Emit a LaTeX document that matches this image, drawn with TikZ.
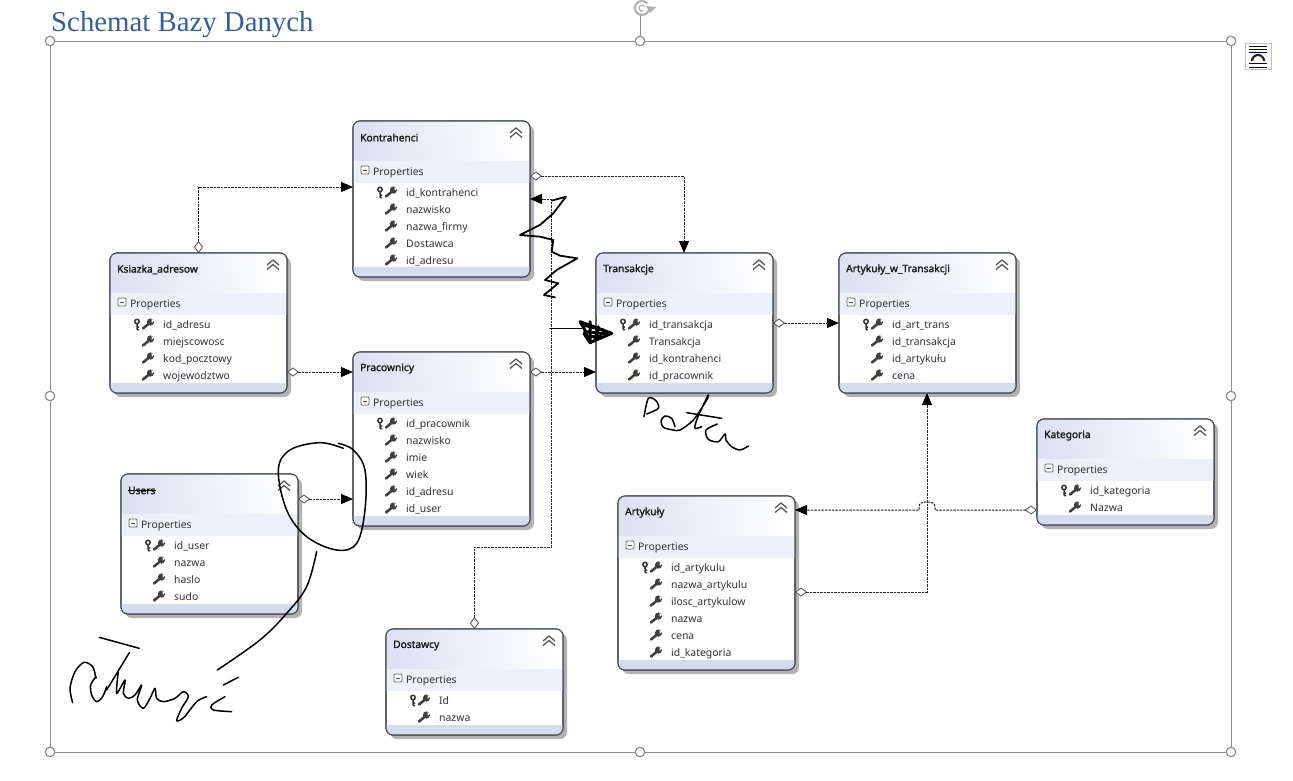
\documentclass[tikz,border=0pt]{standalone}
\usepackage{fontspec}
\setmainfont{Liberation Serif}
\newfontfamily\uifont{Noto Sans}
\newfontfamily\uibold[FakeBold=1.6]{Noto Sans}
\usetikzlibrary{arrows.meta,calc}
\definecolor{headblue}{HTML}{DCE2F1}
\definecolor{bandblue}{HTML}{EDF0F8}
\definecolor{footblue}{HTML}{D5DCEE}
\definecolor{boxline}{HTML}{484E58}
\definecolor{framegray}{HTML}{8E8E8E}
\definecolor{titleblue}{HTML}{365F91}
\tikzstyle{entity} = [draw=boxline, fill=white, line width=1.1pt, rounded corners=7pt, minimum width=177pt, inner sep=0pt, outer sep=0pt, anchor=north west]
\tikzstyle{entitytitle} = [font=\fontsize{10.2}{12}\uibold, text=black!90, inner sep=0pt, anchor=west]
\tikzstyle{rowtext} = [font=\fontsize{10.4}{13}\uifont, text=black!80, inner sep=0pt, anchor=west, text height=8pt, text depth=3pt]
\tikzstyle{relation} = [draw=black!85, line width=1pt, dash pattern=on 2.5pt off 1pt, {Diamond[open,fill=white,length=12pt,width=9pt,line width=0.8pt,black!70]}-{Triangle[length=12pt,width=10pt,black]}]
\tikzstyle{handle} = [circle, draw=framegray, fill=white, line width=1.2pt, minimum size=9.5pt, inner sep=0pt]
\tikzstyle{ink} = [draw=black, line width=1.5pt, line join=round, line cap=round]
\tikzset{
  wrench/.pic={
    \draw[black!75, line width=2.6pt, line cap=round] (-5,4) -- (1,-1);
    \fill[black!75] (2.5,-2.5) circle (3.6);
    \fill[white] (3.5,-5.4) -- (7,-4.4) -- (3.8,-1.8) -- cycle;
  },
  keyicon/.pic={
    \draw[black!80, line width=1.5pt] (0,-3) circle (2.2) (0,-0.8) -- (0,5) (0,2.5) -- (2,2.5) (0,5) -- (2,5);
  },
  chevrons/.pic={
    \draw[black!65, line width=1.3pt] (-6,1) -- (0,-4) -- (6,1) (-6,5.5) -- (0,0.5) -- (6,5.5);
  },
  minusbox/.pic={
    \draw[black!60, fill=white, rounded corners=1pt, line width=0.8pt] (-4,-4) rectangle (4,4);
    \draw[black!70, line width=0.9pt] (-2,0) -- (2,0);
  }
}
% name, left, top, height, title, rows (the first one is the key)
\newcommand{\entity}[6]{
  \fill[black!30, rounded corners=7pt] (#2+4,#3+4) rectangle (#2+181,#3+#4+4);
  \node[entity, minimum height=#4pt] (#1) at (#2,#3) {};
  \begin{scope}
    \clip[rounded corners=7pt] (#1.north west) rectangle (#1.south east);
    \shade[left color=headblue, right color=white, shading angle=100] (#1.north west) rectangle ($(#1.north east)+(0,40)$);
    \fill[bandblue] ($(#1.north west)+(0,40)$) rectangle ($(#1.north east)+(0,62)$);
    \fill[footblue] ($(#1.south west)+(0,-10)$) rectangle (#1.south east);
  \end{scope}
  \draw[draw=boxline, line width=1.1pt, rounded corners=7pt] (#1.north west) rectangle (#1.south east);
  \node[entitytitle] (#1-title) at (#2+7,#3+16.5) {#5};
  \pic at (#2+163,#3+11) {chevrons};
  \pic at (#2+12,#3+49) {minusbox};
  \node[rowtext] (#1-props) at (#2+20,#3+52) {Properties};
  \foreach \row [count=\i from 0] in {#6} {
    \node[rowtext] (#1-row\i) at (#2+53,#3+72.5+17*\i) {\row};
    \pic at ($(#1-row\i.west)+(-15,-1)$) {wrench};
    \ifnum\i=0 \pic at ($(#1-row\i.west)+(-26,-1)$) {keyicon}; \fi
  }
}
\begin{document}
\begin{tikzpicture}[x=1pt, y=-1pt]
  \useasboundingbox (0,0) rectangle (1293,780);
  \node[font=\fontsize{28.8}{32}\selectfont, text=titleblue, inner sep=0pt, anchor=base west] (pagetitle) at (51,31) {Schemat Bazy Danych};
  % selection frame
  \foreach \n/\px/\py in {nw/50/41, n/640/41, ne/1231/41, e/1231/396, se/1231/752, s/640/752, sw/50/752, w/50/396}
    \node[handle] (h\n) at (\px,\py) {};
  \draw[framegray, line width=0.9pt] (hnw) -- (hn) -- (hne) -- (he) -- (hse) -- (hs) -- (hsw) -- (hw) -- (hnw);
  \coordinate (rotbase) at (640,15);
  \draw[framegray, line width=0.9pt] (hn) -- (rotbase);
  \draw[framegray!70, line width=2pt] (642,8) ++(20:7) arc[start angle=20, end angle=320, radius=7];
  \draw[framegray!70, line width=1.2pt] (642,8) ++(60:3) arc[start angle=60, end angle=330, radius=3];
  \fill[framegray!70] (646,6) -- (656,7) -- (650,13) -- cycle;
  \node[draw=black!25, fill=white, minimum size=26pt, inner sep=0pt] (layouticon) at (1258,56) {};
  \foreach \ly in {46,49,52,63,67} \draw[black!75!blue, line width=0.8pt] (1249,\ly) -- (1267,\ly);
  \draw[black!85, line width=2.2pt] (1252,61) arc[start angle=180, end angle=360, radius=6];
  % tables
  \entity{kontrahenci}{353}{121}{156}{Kontrahenci}{id\_kontrahenci,nazwisko,nazwa\_firmy,Dostawca,id\_adresu}
  \entity{ksiazka}{110}{253}{140}{Ksiazka\_adresow}{id\_adresu,miejscowosc,kod\_pocztowy,wojewodztwo}
  \entity{pracownicy}{353}{352}{174}{Pracownicy}{id\_pracownik,nazwisko,imie,wiek,id\_adresu,id\_user}
  \entity{users}{121}{474}{140}{Users}{id\_user,nazwa,haslo,sudo}
  \entity{transakcje}{596}{253}{140}{Transakcje}{id\_transakcja,Transakcja,id\_kontrahenci,id\_pracownik}
  \entity{artwtrans}{839}{253}{140}{Artykuły\_w\_Transakcji}{id\_art\_trans,id\_transakcja,id\_artykułu,cena}
  \entity{kategoria}{1037}{419}{106}{Kategoria}{id\_kategoria,Nazwa}
  \entity{artykuly}{618}{496}{174}{Artykuły}{id\_artykulu,nazwa\_artykulu,ilosc\_artykulow,nazwa,cena,id\_kategoria}
  \entity{dostawcy}{386}{629}{106}{Dostawcy}{Id,nazwa}
  \draw[black, line width=0.9pt] (users-title.west) -- (users-title.east);
  % relations
  \draw[relation] (ksiazka.north) |- (kontrahenci.west |- 0,187);
  \draw[relation] (kontrahenci.east |- 0,176) -| (transakcje.north -| 684,0);
  \draw[relation] (ksiazka.east |- 0,372) -- (pracownicy.west |- 0,372);
  \draw[relation] (pracownicy.east |- 0,372) -- (transakcje.west |- 0,372);
  \draw[relation] (users.east |- 0,499) -- (pracownicy.west |- 0,499);
  \draw[relation] (dostawcy.north) |- (551,547) |- (kontrahenci.east |- 0,199);
  \draw[relation] (transakcje.east |- 0,323) -- (artwtrans.west |- 0,323);
  \draw[relation] (artykuly.east |- 0,592) -| (artwtrans.south -| 927,0);
  \draw[relation] (kategoria.west |- 0,510) -- (935,510) -- (935,507) .. controls (935,503) and (932,502) .. (927,502) .. controls (922,502) and (919,503) .. (919,507) -- (919,510) -- (artykuly.east |- 0,510);
  % handwriting
  \begin{scope}[shift={(340,110)}, x=0.3333pt, y=-0.3333pt]
    \draw[ink, line width=1.8pt] (635,272) -- (678,260) -- (640,310) -- (600,345) -- (540,375) -- (600,380) -- (640,390) -- (635,425) -- (660,437) -- (712,445) -- (650,480) -- (615,510) -- (655,520) -- (612,555) -- (645,562);
  \end{scope}
  \begin{scope}[shift={(570,310)}, x=0.3333pt, y=-0.3333pt]
    \draw[ink, line width=1.6pt] (-60,55) -- (40,55);
    \draw[ink, line width=3pt] (30,35) -- (125,70) -- (60,98) -- (42,55) -- cycle;
    \draw[ink, line width=3pt] (60,35) -- (60,98) (85,50) -- (75,90) (50,65) -- (110,72) (40,45) -- (100,60) (42,70) -- (58,95) (50,80) -- (95,80);
  \end{scope}
  \begin{scope}[shift={(630,390)}, x=0.3333pt, y=-0.3333pt]
    \draw[ink] plot[smooth, tension=0.5] coordinates {(42,80) (55,25) (78,32) (85,55) (50,72)};
    \draw[ink] plot[smooth, tension=0.5] coordinates {(135,110) (125,85) (105,78) (93,92) (100,112) (130,120) (150,120) (190,90) (230,30) (235,15) (220,45) (200,90) (195,115) (215,110)};
    \draw[ink] (170,68) -- (275,85);
    \draw[ink] plot[smooth, tension=0.5] coordinates {(262,102) (228,120) (235,148) (265,155) (285,132) (288,150) (305,170) (330,180) (355,168)};
  \end{scope}
  \begin{scope}[shift={(60,430)}, x=0.3333pt, y=-0.3333pt]
    \draw[ink] plot[smooth, tension=0.6] coordinates {(850,55) (780,38) (690,60) (655,120) (680,240) (740,320) (830,360) (890,340) (915,240) (915,120) (880,60) (835,40)};
    \draw[ink] plot[smooth, tension=0.6] coordinates {(770,365) (740,470) (680,550) (600,630) (472,720)};
    \draw[ink] (490,765) -- (535,742);
  \end{scope}
  \begin{scope}[shift={(60,630)}, x=0.3333pt, y=-0.3333pt]
    \draw[ink] (118,22) -- (238,55);
    \draw[ink] plot[smooth, tension=0.5] coordinates {(38,218) (30,175) (45,125) (72,97) (98,110) (108,145)};
    \draw[ink] plot[smooth, tension=0.5] coordinates {(108,140) (92,165) (95,195) (110,215) (128,200) (140,170)};
    \draw[ink] (208,68) -- (140,180);
    \draw[ink] plot[smooth, tension=0.5] coordinates {(175,125) (170,190) (195,150) (190,190) (205,205) (225,195) (245,165) (232,210) (250,235) (270,205) (285,175) (290,205) (310,215) (345,205) (370,185) (385,200) (365,235) (350,272) (372,262) (410,215) (440,200)};
    \draw[ink] plot[smooth, tension=0.5] coordinates {(495,200) (455,225) (460,240) (515,245)};
  \end{scope}
\end{tikzpicture}
\end{document}
